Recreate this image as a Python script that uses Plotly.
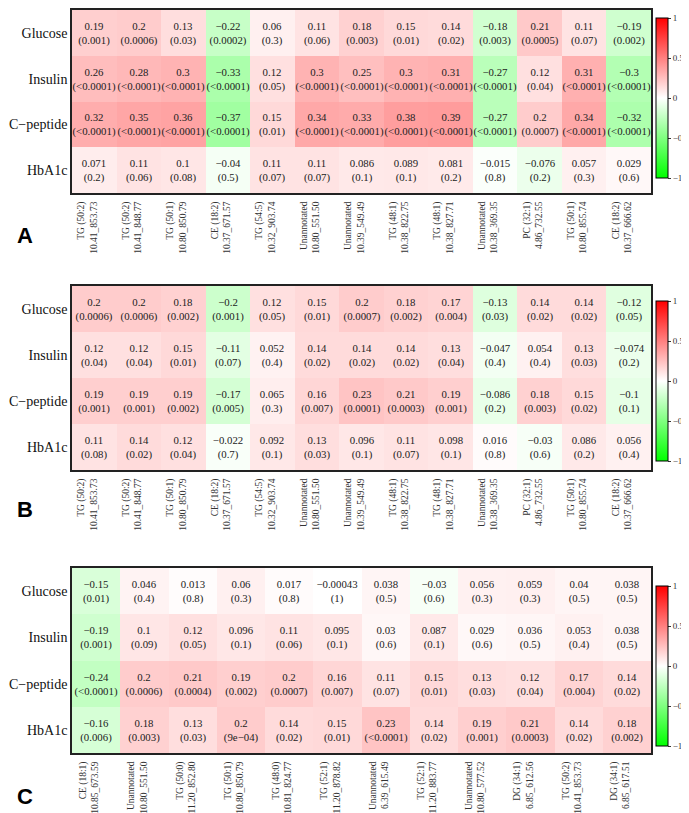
import plotly.graph_objects as go

rows = ["Glucose", "Insulin", "C−peptide", "HbA1c"]

cols_ab = ["TG (50:2)<br>10.41_853.73", "TG (50:2)<br>10.41_848.77", "TG (50:1)<br>10.80_850.79",
           "CE (18:2)<br>10.37_671.57", "TG (54:5)<br>10.32_903.74", "Unannotated<br>10.80_551.50",
           "Unannotated<br>10.39_549.49", "TG (48:1)<br>10.38_822.75", "TG (48:1)<br>10.38_827.71",
           "Unannotated<br>10.38_369.35", "PC (32:1)<br>4.86_732.55", "TG (50:1)<br>10.80_855.74",
           "CE (18:2)<br>10.37_666.62"]

cols_c = ["CE (18:1)<br>10.85_673.59", "Unannotated<br>10.80_551.50", "TG (50:0)<br>11.20_852.80",
          "TG (50:1)<br>10.80_850.79", "TG (48:0)<br>10.81_824.77", "TG (52:1)<br>11.20_878.82",
          "Unannotated<br>6.39_615.49", "TG (52:1)<br>11.20_883.77", "Unannotated<br>10.80_577.52",
          "DG (34:1)<br>6.85_612.56", "TG (50:2)<br>10.41_853.73", "DG (34:1)<br>6.85_617.51"]

# Panel A
a_r = [
    [0.19, 0.2, 0.13, -0.22, 0.06, 0.11, 0.18, 0.15, 0.14, -0.18, 0.21, 0.11, -0.19],
    [0.26, 0.28, 0.3, -0.33, 0.12, 0.3, 0.25, 0.3, 0.31, -0.27, 0.12, 0.31, -0.3],
    [0.32, 0.35, 0.36, -0.37, 0.15, 0.34, 0.33, 0.38, 0.39, -0.27, 0.2, 0.34, -0.32],
    [0.071, 0.11, 0.1, -0.04, 0.11, 0.11, 0.086, 0.089, 0.081, -0.015, -0.076, 0.057, 0.029],
]
a_p = [
    ["0.001", "0.0006", "0.03", "0.0002", "0.3", "0.06", "0.003", "0.01", "0.02", "0.003", "0.0005", "0.07", "0.002"],
    ["<0.0001", "<0.0001", "<0.0001", "<0.0001", "0.05", "<0.0001", "<0.0001", "<0.0001", "<0.0001", "<0.0001", "0.04", "<0.0001", "<0.0001"],
    ["<0.0001", "<0.0001", "<0.0001", "<0.0001", "0.01", "<0.0001", "<0.0001", "<0.0001", "<0.0001", "<0.0001", "0.0007", "<0.0001", "<0.0001"],
    ["0.2", "0.06", "0.08", "0.5", "0.07", "0.07", "0.1", "0.1", "0.2", "0.8", "0.2", "0.3", "0.6"],
]

# Panel B
b_r = [
    [0.2, 0.2, 0.18, -0.2, 0.12, 0.15, 0.2, 0.18, 0.17, -0.13, 0.14, 0.14, -0.12],
    [0.12, 0.12, 0.15, -0.11, 0.052, 0.14, 0.14, 0.14, 0.13, -0.047, 0.054, 0.13, -0.074],
    [0.19, 0.19, 0.19, -0.17, 0.065, 0.16, 0.23, 0.21, 0.19, -0.086, 0.18, 0.15, -0.1],
    [0.11, 0.14, 0.12, -0.022, 0.092, 0.13, 0.096, 0.11, 0.098, 0.016, -0.03, 0.086, 0.056],
]
b_p = [
    ["0.0006", "0.0006", "0.002", "0.001", "0.05", "0.01", "0.0007", "0.002", "0.004", "0.03", "0.02", "0.02", "0.05"],
    ["0.04", "0.04", "0.01", "0.07", "0.4", "0.02", "0.02", "0.02", "0.04", "0.4", "0.4", "0.03", "0.2"],
    ["0.001", "0.001", "0.002", "0.005", "0.3", "0.007", "0.0001", "0.0003", "0.001", "0.2", "0.003", "0.02", "0.1"],
    ["0.08", "0.02", "0.04", "0.7", "0.1", "0.03", "0.1", "0.07", "0.1", "0.8", "0.6", "0.2", "0.4"],
]

# Panel C
c_r = [
    [-0.15, 0.046, 0.013, 0.06, 0.017, -0.00043, 0.038, -0.03, 0.056, 0.059, 0.04, 0.038],
    [-0.19, 0.1, 0.12, 0.096, 0.11, 0.095, 0.03, 0.087, 0.029, 0.036, 0.053, 0.038],
    [-0.24, 0.2, 0.21, 0.19, 0.2, 0.16, 0.11, 0.15, 0.13, 0.12, 0.17, 0.14],
    [-0.16, 0.18, 0.13, 0.2, 0.14, 0.15, 0.23, 0.14, 0.19, 0.21, 0.14, 0.18],
]
c_p = [
    ["0.01", "0.4", "0.8", "0.3", "0.8", "1", "0.5", "0.6", "0.3", "0.3", "0.5", "0.5"],
    ["0.001", "0.09", "0.05", "0.1", "0.06", "0.1", "0.6", "0.1", "0.6", "0.5", "0.4", "0.5"],
    ["<0.0001", "0.0006", "0.0004", "0.002", "0.0007", "0.007", "0.07", "0.01", "0.03", "0.04", "0.004", "0.02"],
    ["0.006", "0.003", "0.03", "9e−04", "0.02", "0.01", "<0.0001", "0.02", "0.001", "0.0003", "0.02", "0.002"],
]

panel_letters = ["A", "B", "C"]
bar_ticks = [-1, -0.5, 0, 0.5, 1]
bar_ticktext = ["−1", "−0.5", "0", "0.5", "1"]

W, H = 689, 813
SERIF = "Liberation Serif"

def cell_text(r, p):
    return [[str(v).replace("-", "−") + "<br>(" + q + ")" for v, q in zip(rr, pp)] for rr, pp in zip(r, p)]

# layout geometry (pixels)
x_left, x_right = 64, 643
panel_px = [(2, 185), (278, 462), (560, 745)]
bar_center_px = [90, 373, 658]
letter_px = [227, 502, 788]

def py(v):
    return 1 - v / H

colorscale = [[0, "#00FF00"], [0.5, "#FFFFFF"], [1, "#FF0000"]]

fig = go.Figure()
datasets = [(a_r, a_p, cols_ab), (b_r, b_p, cols_ab), (c_r, c_p, cols_c)]
for i, (r, p, cols) in enumerate(datasets):
    n = i + 1
    xa = "x" if n == 1 else f"x{n}"
    ya = "y" if n == 1 else f"y{n}"
    fig.add_trace(go.Heatmap(
        z=r, x=cols, y=rows, text=cell_text(r, p), texttemplate="%{text}",
        textfont=dict(family=SERIF, size=10.8, color="#222"),
        colorscale=colorscale, zmin=-1, zmax=1, xgap=0, ygap=0,
        hoverinfo="skip",
        xaxis=xa, yaxis=ya,
        colorbar=dict(
            thickness=12, len=160, lenmode="pixels",
            x=648 / W, xanchor="left", xpad=0,
            y=py(bar_center_px[i]), yanchor="middle", ypad=0,
            outlinewidth=1, outlinecolor="black",
            tickvals=bar_ticks, ticktext=bar_ticktext,
            ticks="outside", ticklen=3, tickcolor="#333",
            tickfont=dict(family=SERIF, size=9, color="#333"),
        ),
    ))
    top, bot = panel_px[i]
    axis_common = dict(showline=True, mirror=True, linecolor="#222", linewidth=1.5,
                       showgrid=False, zeroline=False, ticks="")
    fig.layout[("xaxis" if n == 1 else f"xaxis{n}")] = dict(
        domain=[x_left / W, x_right / W], anchor=ya, tickangle=-90,
        ticklabelshift=-7, ticklabelstandoff=3,
        tickfont=dict(family=SERIF, size=9.5, color="#333"), **axis_common)
    fig.layout[("yaxis" if n == 1 else f"yaxis{n}")] = dict(
        domain=[py(bot), py(top)], anchor=xa, autorange="reversed",
        tickfont=dict(family=SERIF, size=14, color="#111"), **axis_common)
    fig.add_annotation(text="<b>" + panel_letters[i] + "</b>", xref="paper", yref="paper",
                       x=17 / W, y=py(letter_px[i]), xanchor="center", yanchor="middle",
                       showarrow=False, font=dict(family="Liberation Sans", size=22, color="black"))

fig.update_layout(width=W, height=H, margin=dict(l=0, r=0, t=0, b=0),
                  paper_bgcolor="white", plot_bgcolor="white", showlegend=False)

fig.write_html("out.html")
